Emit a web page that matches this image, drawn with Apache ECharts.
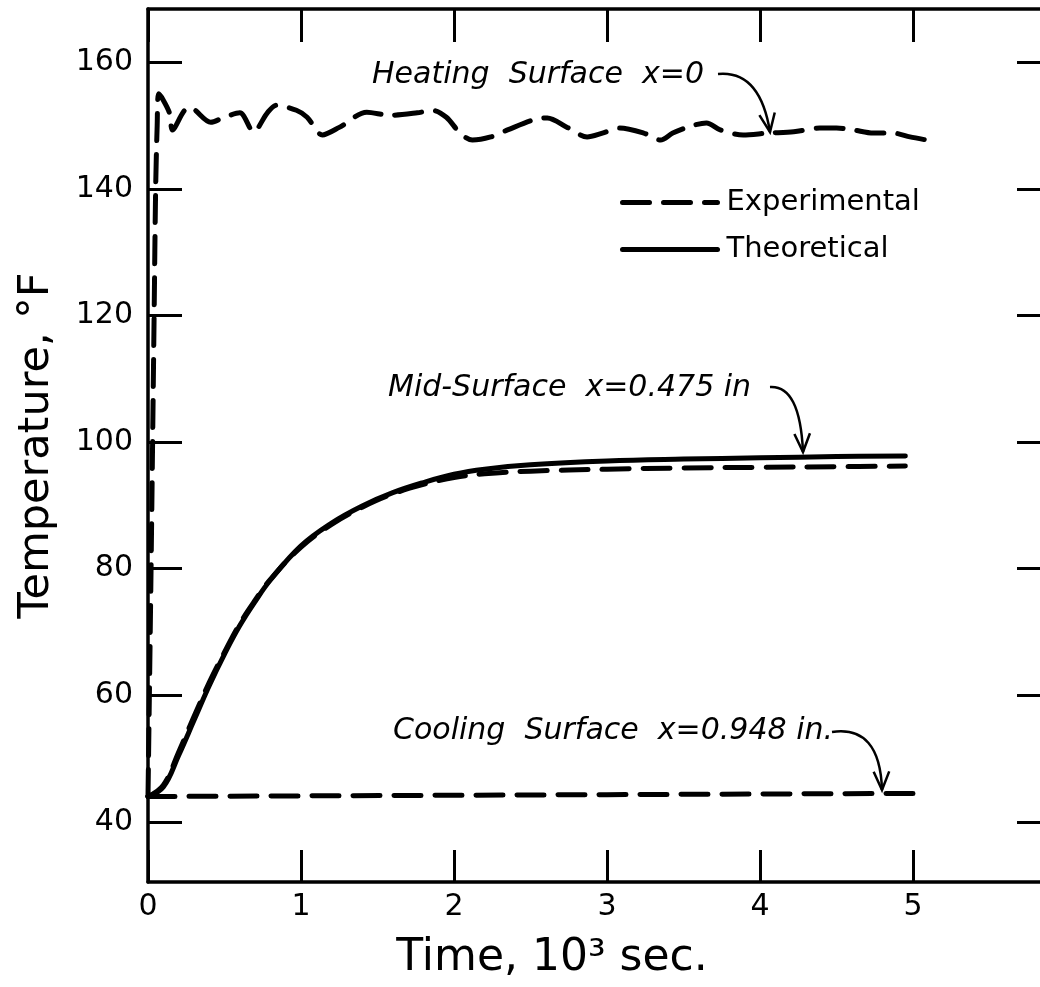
<!DOCTYPE html>
<html>
<head>
<meta charset="utf-8">
<title>Temperature vs time</title>
<script src="https://cdn.jsdelivr.net/npm/echarts@6/dist/echarts.min.js"></script>
<style>
  html, body { margin: 0; padding: 0; background: #fff; }
  #chart { width: 1040px; height: 987px; }
</style>
</head>
<body>
<div id="chart"></div>
<script>
// time in 10^3 sec, temperature in deg F
var heatExpT = [0, 0.02, 0.04, 0.05, 0.06, 0.07, 0.10, 0.14, 0.16, 0.23, 0.27, 0.41, 0.49, 0.60, 0.69, 0.78, 0.84, 0.97, 1.04, 1.14, 1.25, 1.43, 1.58, 1.76, 1.86, 1.95, 2.04, 2.12, 2.24, 2.35, 2.52, 2.61, 2.74, 2.87, 2.97, 3.08, 3.24, 3.35, 3.43, 3.56, 3.65, 3.74, 3.89, 4.05, 4.22, 4.39, 4.50, 4.61, 4.74, 4.87, 4.98, 5.09];
var heatExpV = [44, 80, 120, 140, 150, 155, 154, 152, 149.3, 152.1, 152.9, 150.5, 151.2, 152, 149, 152, 153.2, 152.4, 151.3, 148.5, 149.7, 152.1, 151.6, 152, 152.4, 151.3, 148.8, 147.7, 148.2, 149.3, 150.9, 151.2, 149.7, 148.2, 148.8, 149.6, 148.8, 147.7, 148.8, 150, 150.4, 149.3, 148.5, 148.8, 149, 149.6, 149.6, 149.3, 148.8, 148.8, 148.2, 147.7];

var midTheoT = [0, 0.1, 0.2, 0.3, 0.4, 0.5, 0.6, 0.7, 0.8, 1.0, 1.2, 1.4, 1.6, 1.8, 2.0, 2.2, 2.5, 3.0, 3.5, 4.0, 4.5, 4.95];
var midTheoV = [44, 45.5, 50.5, 56, 61.5, 66.5, 71, 74.8, 78.2, 83.6, 87.2, 89.9, 92, 93.6, 94.9, 95.7, 96.4, 97, 97.3, 97.5, 97.7, 97.8];

var midExpT = [0, 0.1, 0.2, 0.3, 0.4, 0.5, 0.6, 0.7, 0.8, 1.0, 1.2, 1.4, 1.6, 1.8, 2.0, 2.2, 2.5, 3.0, 3.5, 4.0, 4.5, 4.95];
var midExpV = [44, 45.8, 51, 56.6, 62, 66.8, 71.3, 75, 78.3, 83.4, 87, 89.7, 91.8, 93.3, 94.4, 95, 95.4, 95.7, 95.9, 96, 96.1, 96.2];

var coolExpT = [0, 1, 2, 3, 4, 5.03];
var coolExpV = [44, 44.1, 44.2, 44.3, 44.4, 44.5];

var xTicks = [0, 1, 2, 3, 4, 5];
var yTicks = [40, 60, 80, 100, 120, 140, 160];

function pairs(t, v) {
  var out = [];
  for (var i = 0; i < t.length; i++) out.push([t[i], v[i]]);
  return out;
}

var FontName = 'DejaVu Sans';
var Ink = '#000';
var dash = [27, 14];

function arrow(x1, y1, cx, cy, x2, y2) {
  // curved pointer with a V head at (x2, y2)
  var ang = Math.atan2(y2 - cy, x2 - cx);
  var h = 20, w = 0.4;
  return [
    {
      type: 'bezierCurve',
      shape: { x1: x1, y1: y1, cpx1: cx, cpy1: cy, x2: x2, y2: y2 },
      style: { stroke: Ink, lineWidth: 2.5, fill: null }
    },
    {
      type: 'polyline',
      shape: { points: [
        [x2 - h * Math.cos(ang - w), y2 - h * Math.sin(ang - w)],
        [x2, y2],
        [x2 - h * Math.cos(ang + w), y2 - h * Math.sin(ang + w)]
      ] },
      style: { stroke: Ink, lineWidth: 2.5, fill: null }
    }
  ];
}

function note(text, x, y) {
  return {
    type: 'text',
    x: x, y: y,
    style: {
      text: text,
      font: 'italic 30px "DejaVu Sans"',
      fill: Ink,
      verticalAlign: 'middle'
    }
  };
}

var frameLine = { show: true, onZero: false, lineStyle: { color: Ink, width: 3.5 } };

var option = {
  backgroundColor: '#fff',
  animation: false,
  color: [Ink],
  textStyle: { fontFamily: FontName, color: Ink },
  grid: { left: 148, top: 9, right: 0, bottom: 105, containLabel: false },
  legend: {
    data: ['Experimental', 'Theoretical'],
    orient: 'vertical',
    left: 620,
    top: 188,
    padding: 0,
    itemWidth: 95,
    itemHeight: 14,
    itemGap: 18,
    itemStyle: { color: 'transparent', borderWidth: 0 },
    lineStyle: { width: 5, color: Ink },
    textStyle: { fontSize: 29, color: Ink, fontFamily: FontName, padding: [0, 0, 0, 4] }
  },
  xAxis: [
    {
      type: 'value', min: 0, max: 5.83, position: 'bottom',
      name: 'Time, 10\u00b3 sec.',
      nameLocation: 'middle',
      nameGap: 55,
      nameTextStyle: { fontSize: 44, color: Ink, fontFamily: FontName, padding: [0, 84, 0, 0] },
      axisLine: frameLine,
      axisTick: { show: true, inside: true, length: 32, customValues: xTicks, lineStyle: { color: Ink, width: 3 } },
      axisLabel: { show: true, fontSize: 30, color: Ink, margin: 10, customValues: xTicks },
      splitLine: { show: false }
    },
    {
      type: 'value', min: 0, max: 5.83, position: 'top',
      axisLine: frameLine,
      axisTick: { show: true, inside: true, length: 33, customValues: xTicks, lineStyle: { color: Ink, width: 3 } },
      axisLabel: { show: false },
      splitLine: { show: false }
    }
  ],
  yAxis: [
    {
      type: 'value', min: 30.5, max: 168.4, position: 'left',
      name: 'Temperature, \u00b0F',
      nameLocation: 'middle',
      nameGap: 90,
      nameTextStyle: { fontSize: 43, color: Ink, fontFamily: FontName },
      axisLine: frameLine,
      axisTick: { show: true, inside: true, length: 34, customValues: yTicks, lineStyle: { color: Ink, width: 3 } },
      axisLabel: { show: true, fontSize: 30, color: Ink, margin: 15, customValues: yTicks },
      splitLine: { show: false }
    },
    {
      // right frame edge falls just outside the picture; only its ticks show
      type: 'value', min: 30.5, max: 168.4, position: 'right',
      axisLine: { show: false, onZero: false },
      axisTick: { show: true, inside: true, length: 23, customValues: yTicks, lineStyle: { color: Ink, width: 3 } },
      axisLabel: { show: false },
      splitLine: { show: false }
    }
  ],
  series: [
    {
      name: 'Experimental', type: 'line', symbol: 'none', smooth: 0.3,
      data: pairs(heatExpT, heatExpV),
      itemStyle: { color: Ink },
      lineStyle: { color: Ink, width: 5, type: dash, cap: 'round', join: 'round' }
    },
    {
      name: 'Theoretical', type: 'line', symbol: 'none', smooth: 0.4,
      data: pairs(midTheoT, midTheoV),
      itemStyle: { color: Ink },
      lineStyle: { color: Ink, width: 5, type: 'solid', cap: 'round', join: 'round' }
    },
    {
      name: 'Experimental', type: 'line', symbol: 'none', smooth: 0.4,
      data: pairs(midExpT, midExpV),
      itemStyle: { color: Ink },
      lineStyle: { color: Ink, width: 5, type: dash, cap: 'round', join: 'round' }
    },
    {
      name: 'Experimental', type: 'line', symbol: 'none',
      data: pairs(coolExpT, coolExpV),
      itemStyle: { color: Ink },
      lineStyle: { color: Ink, width: 5, type: dash, cap: 'round', join: 'round' }
    }
  ],
  graphic: [
    note('Heating  Surface  x=0', 372, 75),
    note('Mid-Surface  x=0.475 in', 388, 388),
    note('Cooling  Surface  x=0.948 in.', 393, 731)
  ]
    .concat(arrow(718, 74, 760, 70, 770, 132))
    .concat(arrow(770, 387, 800, 385, 803, 452))
    .concat(arrow(832, 732, 880, 725, 882, 790))
};

var chart = echarts.init(document.getElementById('chart'));
chart.setOption(option);
</script>
</body>
</html>
